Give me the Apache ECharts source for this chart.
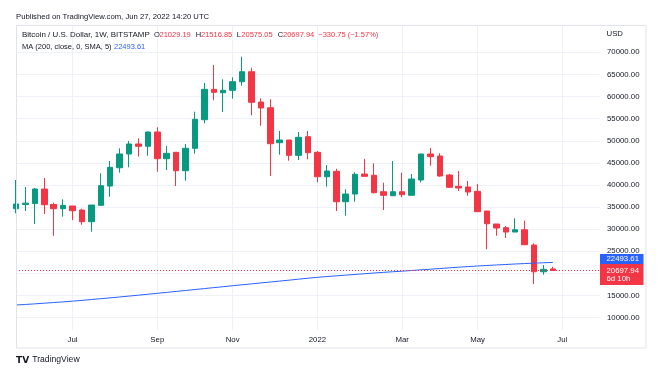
<!DOCTYPE html>
<html><head><meta charset="utf-8">
<script src="https://cdn.jsdelivr.net/npm/echarts@6/dist/echarts.min.js"></script>
<style>html,body{margin:0;padding:0;background:#fff}#c{width:658px;height:370px}</style>
</head><body><div id="c"></div>
<script>
const weeks = ['2021-05-24','2021-05-31','2021-06-07','2021-06-14','2021-06-21','2021-06-28','2021-07-05','2021-07-12','2021-07-19','2021-07-26',
'2021-08-02','2021-08-09','2021-08-16','2021-08-23','2021-08-30','2021-09-06','2021-09-13','2021-09-20','2021-09-27','2021-10-04',
'2021-10-11','2021-10-18','2021-10-25','2021-11-01','2021-11-08','2021-11-15','2021-11-22','2021-11-29','2021-12-06','2021-12-13',
'2021-12-20','2021-12-27','2022-01-03','2022-01-10','2022-01-17','2022-01-24','2022-01-31','2022-02-07','2022-02-14','2022-02-21',
'2022-02-28','2022-03-07','2022-03-14','2022-03-21','2022-03-28','2022-04-04','2022-04-11','2022-04-18','2022-04-25','2022-05-02',
'2022-05-09','2022-05-16','2022-05-23','2022-05-30','2022-06-06','2022-06-13','2022-06-20','2022-06-27','2022-07-04','2022-07-11',
'2022-07-18','2022-07-25','2022-08-01'];
const openVals = [34640,35600,35800,39090,35600,34640,35250,34340,31700,35400,39770,43900,47010,49270,48750,51980,45940,47390,43230,48290,54760,61630,60865,61410,63350,65610,58760,57470,49560,50170,46710,50920,47390,41870,43090,36220,37960,42480,42190,38480,37580,38480,37670,41130,47010,46550,42260,39700,39550,38570,34120,31180,30340,29370,29890,26430,20390,21029.19];
const closeVals = [35700,35900,39090,35540,34640,35400,34190,31700,35470,39840,43990,47010,49270,48750,51980,45940,47160,43230,48290,54850,61630,60955,61410,63350,65610,58700,57410,49330,50170,46710,50780,47300,41870,43160,36220,37960,42420,41960,38250,37670,38480,37800,41350,47010,46400,42030,39480,39320,38410,33960,31250,30280,29370,29890,26500,20390,20940,20697.94];
const lowVals = [33600,34120,31180,33440,28530,32830,32080,31020,29440,35400,37350,42780,44000,46400,46620,43000,43390,39770,40970,47070,53950,59150,56500,59510,62450,55760,53400,42030,46850,45490,45650,45810,40610,39610,34120,33060,36220,41870,38120,34340,37580,37220,37670,40600,44360,41870,39320,38640,37580,33960,25460,28530,28010,29370,26500,17610,19720,20575.05];
const highVals = [41130,39540,39320,41580,36000,36760,35250,34640,35470,42640,45420,48290,49950,50550,52100,53040,48810,47390,49270,56570,63060,67130,63900,64350,69000,66520,59600,59370,52210,50170,51980,52210,47680,44520,43680,39020,42870,45900,44900,40520,45420,42780,42480,47010,48360,47160,42480,43160,40900,40220,34120,31180,30730,32470,31930,26820,21910,21516.85];
const maVals = [12870,12990,13130,13280,13430,13580,13740,13920,14110,14300,14490,14680,14890,15090,15300,15510,15720,15940,16150,16370,16580,16800,17010,17230,17440,17650,17860,18070,18280,18490,18710,18920,19130,19300,19460,19620,19780,19940,20100,20250,20390,20520,20670,20820,20970,21120,21270,21420,21560,21690,21810,21920,22030,22140,22240,22330,22420,22493.61];
const tickDates = ['2021-07-05','2021-09-06','2021-11-01','2022-01-03','2022-03-07','2022-05-02','2022-07-04'];
const tickLabels = ['Jul','Sep','Nov','2022','Mar','May','Jul'];
const yTicks = [10000,15000,20000,25000,30000,35000,40000,45000,50000,55000,60000,65000,70000];

const UP = '#089981', DOWN = '#f23645', BLUE = '#2962ff', TXT = '#131722';
const FONT = 'Liberation Sans';
const candles = openVals.map((o, i) => [o, closeVals[i], lowVals[i], highVals[i]]);
const lastClose = closeVals[closeVals.length - 1];
const lastMA = maVals[maVals.length - 1];
const showTick = (idx, val) => tickDates.indexOf(val) >= 0;

const chart = echarts.init(document.getElementById('c'), null, {renderer: 'canvas'});
chart.setOption({
  animation: false,
  backgroundColor: '#fff',
  grid: {left: 16, top: 25, right: 58, bottom: 40, containLabel: false},
  xAxis: {
    type: 'category', data: weeks, boundaryGap: false,
    axisLine: {show: false}, axisTick: {show: false},
    axisLabel: {interval: showTick, formatter: v => tickLabels[tickDates.indexOf(v)] || '',
      color: TXT, fontSize: 7.8, fontFamily: FONT, margin: 6},
    splitLine: {show: true, interval: showTick, lineStyle: {color: '#eef1f7', width: 1}}
  },
  yAxis: {
    type: 'value', position: 'right', min: 7219, max: 76172, scale: true,
    axisLine: {show: false},
    axisTick: {show: false, customValues: yTicks},
    axisLabel: {customValues: yTicks, formatter: v => v.toFixed(2), color: TXT, fontSize: 7.8, fontFamily: FONT, margin: 7},
    splitLine: {show: true, lineStyle: {color: '#eef1f7', width: 1}}
  },
  series: [
    {
      type: 'candlestick', data: candles, barWidth: 6, clip: true,
      itemStyle: {color: UP, color0: DOWN, borderColor: UP, borderColor0: DOWN, borderWidth: 1},
      markLine: {silent: true, symbol: ['none','none'], label: {show: false},
        lineStyle: {color: DOWN, type: [1, 2], width: 1},
        data: [{yAxis: lastClose}]}
    },
    {
      type: 'line', data: maVals, showSymbol: false, clip: true,
      lineStyle: {color: BLUE, width: 1}, z: 3
    }
  ]
});

const yC = chart.convertToPixel({yAxisIndex: 0}, lastClose);
const HS = 7.5;
const txt = (x, y, text, fill, size, weight, family) => ({type: 'text', x: x, y: y, z: 100, silent: true,
  style: {text: text, fill: fill, font: (weight || 'normal') + ' ' + (size || HS) + 'px "' + (family || FONT) + '"', verticalAlign: 'middle'}});
chart.setOption({
  graphic: [
    {type: 'rect', z: 90, shape: {x: 16.5, y: 25.5, width: 629.5, height: 322.5}, style: {fill: 'none', stroke: '#e0e3eb', lineWidth: 1}, silent: true},
    txt(16, 17, 'Published on TradingView.com, Jun 27, 2022 14:20 UTC', TXT, 7.7),
    txt(22, 35, 'Bitcoin / U.S. Dollar, 1W, BITSTAMP', TXT, 7.95),
    txt(154, 35, 'O', TXT), txt(159.5, 35, openVals[openVals.length-1].toFixed(2), DOWN),
    txt(195.7, 35, 'H', TXT), txt(201, 35, highVals[highVals.length-1].toFixed(2), DOWN),
    txt(236.7, 35, 'L', TXT), txt(241.3, 35, lowVals[lowVals.length-1].toFixed(2), DOWN),
    txt(277.7, 35, 'C', TXT), txt(283, 35, lastClose.toFixed(2), DOWN),
    txt(318.3, 35, '\u2212330.75 (\u22121.57%)', DOWN),
    txt(22, 47, 'MA (200, close, 0, SMA, 5)', TXT),
    txt(114, 47, lastMA.toFixed(2), BLUE),
    txt(606.5, 34, 'USD', TXT, 7.8),
    {type: 'rect', z: 99, shape: {x: 600, y: yC - 16.5, width: 43.5, height: 10.5}, style: {fill: BLUE}, silent: true},
    txt(606.5, yC - 11.2, lastMA.toFixed(2), '#fff', 7.8),
    {type: 'rect', z: 99, shape: {x: 600, y: yC - 6.3, width: 43.5, height: 21}, style: {fill: DOWN}, silent: true},
    txt(606.5, yC + 0.3, lastClose.toFixed(2), '#fff', 7.8),
    txt(606.5, yC + 8.6, '6d 10h', '#fff', 7.8),
    txt(16, 360.5, 'TV', TXT, 9, '900', 'DejaVu Sans'),
    txt(32.3, 360, 'TradingView', TXT, 8.6)
  ]
});
</script></body></html>
